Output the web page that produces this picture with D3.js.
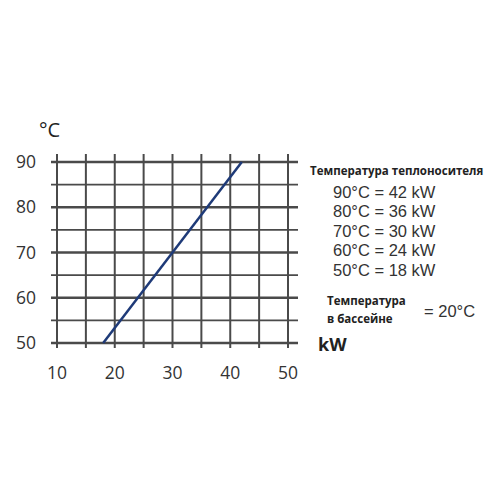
<!DOCTYPE html>
<html><head><meta charset="utf-8">
<script src="https://cdn.jsdelivr.net/npm/d3@7"></script>
<style>body{margin:0;background:#fff}</style>
</head><body>
<svg id="c" width="500" height="500"></svg>
<script>
const xTicks = [10, 20, 30, 40, 50];
const yTicks = [50, 60, 70, 80, 90];
const xGrid = [10, 15, 20, 25, 30, 35, 40, 45, 50];
const yGrid = [50, 55, 60, 65, 70, 75, 80, 85, 90];
const lineData = [{kw: 18, t: 50}, {kw: 42, t: 90}];
const legendTitle = "Температура теплоносителя";
const legendTemps = [90, 80, 70, 60, 50];
const legendPower = [42, 36, 30, 24, 18];
const poolLabel = ["Температура", "в бассейне"];
const poolValue = "= 20°C";

const svg = d3.select("#c");
const x = d3.scaleLinear().domain([10, 50]).range([57, 288]);
const y = d3.scaleLinear().domain([50, 90]).range([343, 162]);
const gridColor = "#4a4a4a";

svg.append("g").selectAll("line").data(xGrid).join("line")
  .attr("x1", d => x(d)).attr("x2", d => x(d))
  .attr("y1", y(90) - 8).attr("y2", y(50) + 5)
  .attr("stroke", gridColor).attr("stroke-width", 2);
svg.append("g").selectAll("line").data(yGrid).join("line")
  .attr("x1", x(10) - 6).attr("x2", x(50) + 10)
  .attr("y1", d => y(d)).attr("y2", d => y(d))
  .attr("stroke", gridColor).attr("stroke-width", d => d % 10 === 0 ? 2.4 : 1.6);

svg.append("path").datum(lineData)
  .attr("d", d3.line().x(d => x(d.kw)).y(d => y(d.t)))
  .attr("fill", "none").attr("stroke", "#1e3a78").attr("stroke-width", 2.5);

const tickFont = "'Open Sans', sans-serif";
const sans = "'Liberation Sans', Arial, sans-serif";
svg.append("g").selectAll("text").data(yTicks).join("text")
  .attr("x", 36).attr("y", d => y(d)).attr("dy", "0.35em")
  .attr("text-anchor", "end").attr("font-family", tickFont).attr("font-size", 17.5)
  .attr("fill", "#333").text(d => d);
svg.append("g").selectAll("text").data(xTicks).join("text")
  .attr("x", d => x(d)).attr("y", 379)
  .attr("text-anchor", "middle").attr("font-family", tickFont).attr("font-size", 17.5)
  .attr("fill", "#333").text(d => d);

svg.append("text").attr("x", 39).attr("y", 137).attr("font-family", tickFont)
  .attr("font-size", 20).attr("fill", "#222").text("°C");
svg.append("text").attr("x", 318).attr("y", 351).attr("font-family", tickFont)
  .attr("font-size", 18).attr("font-weight", "bold").attr("fill", "#222").text("kW");

svg.append("text").attr("x", 310).attr("y", 175).attr("font-family", tickFont)
  .attr("font-size", 11.5).attr("font-weight", "bold").attr("fill", "#222").text(legendTitle);
svg.append("g").selectAll("text").data(legendTemps).join("text")
  .attr("x", 333).attr("y", (d, i) => 197.5 + i * 19.6)
  .attr("font-family", sans).attr("font-size", 16.5)
  .attr("fill", "#333").text((d, i) => `${d}°C = ${legendPower[i]} kW`);
svg.append("g").selectAll("text").data(poolLabel).join("text")
  .attr("x", 327).attr("y", (d, i) => 305 + i * 18)
  .attr("font-family", tickFont).attr("font-size", 11.5).attr("font-weight", "bold")
  .attr("fill", "#222").text(d => d);
svg.append("text").attr("x", 424).attr("y", 316.5)
  .attr("font-family", sans).attr("font-size", 16.5)
  .attr("fill", "#333").text(poolValue);
</script>
</body></html>
